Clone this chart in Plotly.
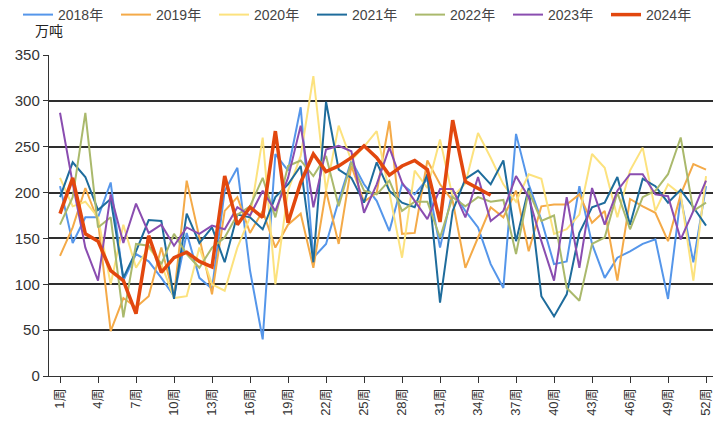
import plotly.graph_objects as go

weeks = list(range(1, 53))
tick_weeks = list(range(1, 53, 3))
tick_labels = [f"{w}周" for w in tick_weeks]

y2018 = [207, 145, 173, 173, 211, 104, 133, 125, 107, 87, 156, 107, 95, 202, 227, 115, 40, 242, 224, 293,
         129, 144, 191, 235, 209, 191, 158, 209, 198, 215, 140, 202, 180, 162, 122, 96, 264, 209, 170, 122,
         125, 207, 144, 107, 129, 136, 144, 149, 84, 195, 124, 207]
y2019 = [131, 162, 205, 169, 49, 85, 75, 87, 140, 87, 213, 151, 89, 180, 195, 156, 180, 140, 165, 177,
         118, 202, 144, 229, 190, 200, 278, 155, 156, 235, 209, 191, 118, 151, 184, 173, 202, 136, 185, 187,
         187, 198, 167, 180, 104, 193, 185, 178, 147, 198, 231, 225]
y2020 = [216, 185, 190, 173, 100, 165, 118, 140, 122, 85, 87, 140, 100, 93, 140, 173, 260, 100, 202, 240,
         327, 202, 273, 235, 250, 267, 200, 129, 224, 205, 258, 195, 210, 265, 238, 209, 190, 220, 215, 155,
         160, 176, 242, 227, 173, 224, 249, 180, 209, 198, 104, 218]
y2021 = [195, 233, 217, 181, 193, 107, 136, 170, 169, 84, 177, 145, 162, 124, 176, 173, 160, 195, 209, 229,
         124, 299, 225, 216, 189, 233, 202, 189, 184, 220, 80, 180, 215, 224, 209, 235, 147, 205, 87, 65,
         89, 156, 184, 189, 217, 165, 215, 207, 189, 203, 184, 164]
y2022 = [165, 195, 287, 162, 173, 64, 144, 142, 122, 155, 133, 118, 140, 151, 176, 185, 216, 173, 229, 235,
         218, 240, 185, 233, 202, 198, 213, 180, 190, 190, 151, 195, 185, 195, 190, 192, 133, 202, 169, 175,
         96, 82, 144, 151, 200, 160, 195, 202, 220, 260, 180, 189]
y2023 = [287, 210, 140, 104, 198, 145, 188, 156, 165, 142, 162, 155, 164, 160, 184, 175, 202, 180, 216, 273,
         184, 247, 251, 245, 178, 209, 249, 211, 191, 171, 204, 204, 173, 217, 169, 180, 218, 195, 147, 104,
         195, 118, 205, 165, 202, 220, 220, 198, 196, 149, 180, 213]
y2024 = [177, 216, 155, 147, 115, 104, 68, 153, 113, 129, 135, 125, 119, 218, 165, 184, 173, 267, 167, 211,
         242, 223, 229, 238, 251, 238, 219, 229, 235, 225, 168, 279, 212, 205, 197]

series = [
    ("2018年", y2018, "#5596EA", 2, "legend"),
    ("2019年", y2019, "#F4AA48", 2, "legend"),
    ("2020年", y2020, "#FCE27E", 2, "legend"),
    ("2021年", y2021, "#1E6C9C", 2, "legend"),
    ("2022年", y2022, "#AAB96C", 2, "legend"),
    ("2023年", y2023, "#8A4DB0", 2, "legend"),
    ("2024年", y2024, "#E2470E", 3.5, "legend2"),
]

fig = go.Figure()
for name, vals, color, width, lg in series:
    fig.add_trace(go.Scatter(
        x=weeks[:len(vals)], y=vals, name=name, mode="lines",
        line=dict(color=color, width=width), legend=lg,
    ))

font_family = "Liberation Sans, Arial, Noto Sans CJK SC, sans-serif"
W, H = 717, 421  # page body has an 8px offset
legend_common = dict(
    orientation="h", xref="container", yref="container",
    xanchor="left", y=1 - 7 / H, yanchor="middle",
    font=dict(size=14, color="#444444"),
    entrywidth=53, entrywidthmode="pixels",
    itemwidth=30, bgcolor="rgba(0,0,0,0)", tracegroupgap=0,
)

fig.update_layout(
    width=W, height=H,
    margin=dict(l=41, r=12, t=47, b=53),
    paper_bgcolor="white", plot_bgcolor="white",
    font=dict(family=font_family, size=12, color="#333333"),
    showlegend=True,
    legend=dict(x=10 / W, **legend_common),
    legend2=dict(x=598 / W, **legend_common),
    annotations=[dict(
        text="万吨", xref="paper", yref="paper", x=-0.024, y=1.075,
        xanchor="left", yanchor="middle", showarrow=False,
        font=dict(size=14, color="#222222"),
    )],
)

fig.update_xaxes(
    range=[0.13, 52.55], automargin=False,
    tickmode="array", tickvals=tick_weeks, ticktext=tick_labels,
    tickangle=-90, ticks="outside", ticklen=6, tickcolor="#333333",
    showline=True, linecolor="#333333", linewidth=1.4,
    showgrid=False, zeroline=False,
    tickfont=dict(size=13, color="#333333"),
)
fig.update_yaxes(
    range=[0, 350], dtick=50, tick0=0, automargin=False,
    ticks="outside", ticklen=5, tickcolor="#333333",
    showline=True, linecolor="#333333", linewidth=1.4,
    showgrid=True, gridcolor="#2e2e2e", gridwidth=1.5,
    zeroline=False,
    tickfont=dict(size=15, color="#333333"),
)

fig.write_html("out.html")
